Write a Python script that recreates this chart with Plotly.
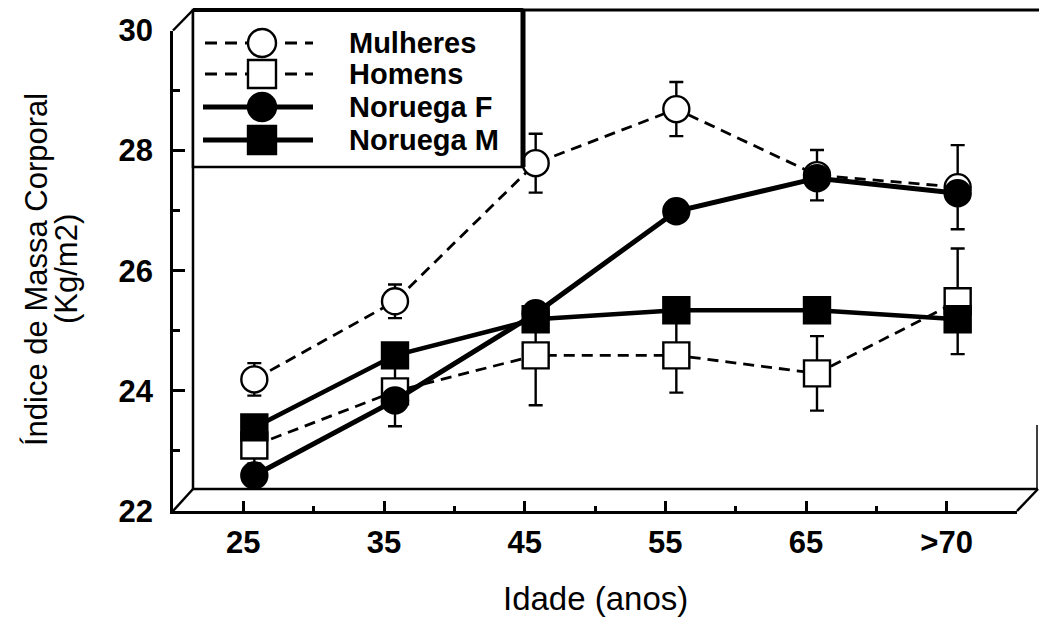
import plotly.graph_objects as go

# ---------------- data ----------------
ages = ['25', '35', '45', '55', '65', '>70']
mulheres = [24.0, 25.3, 27.6, 28.5, 27.4, 27.2]
mulheres_err = [0.27, 0.28, 0.49, 0.45, 0.42, 0.70]
homens = [22.9, 23.8, 24.4, 24.4, 24.1, 25.3]
homens_err = [0.30, 0.58, 0.83, 0.62, 0.62, 0.88]
noruega_f = [22.4, 23.65, 25.1, 26.8, 27.35, 27.1]
noruega_m = [23.2, 24.4, 25.0, 25.15, 25.15, 25.0]
series_names = ['Mulheres', 'Homens', 'Noruega F', 'Noruega M']
y_ticks = [22, 24, 26, 28, 30]
y_title = ['Índice de Massa Corporal', '(Kg/m2)']
x_title = 'Idade (anos)'

# ---------------- geometry (pixels) ----------------
W, H = 1039, 626
FX0, FX1, FY0, FY1 = 173, 1017, 30.5, 511      # front plane (axes)
DX, DY = 11, 11.5                               # data plane offset
BX, BY = 20, 22                                 # back plane offset

def px(x):
    return x / W

def py(y):
    return 1 - y / H

BLACK = 'black'
DASH = '11px,7px'
idx = list(range(len(ages)))
xr = [-0.5, len(ages) - 0.5]
yr = [y_ticks[0], y_ticks[-1]]

fig = go.Figure()

# empty trace to hold front axes
fig.add_trace(go.Scatter(x=[], y=[], xaxis='x', yaxis='y', showlegend=False))

open_marker = dict(color='white', line=dict(color=BLACK, width=2.4))
fill_marker = dict(color=BLACK, line=dict(color=BLACK, width=2.4))
err_style = dict(type='data', visible=True, color=BLACK, thickness=2.4, width=7)

fig.add_trace(go.Scatter(
    x=idx, y=mulheres, name=series_names[0], xaxis='x2', yaxis='y2',
    mode='lines+markers', line=dict(color=BLACK, width=2.8, dash=DASH),
    marker=dict(symbol='circle', size=26, **open_marker),
    error_y=dict(array=mulheres_err, **err_style), cliponaxis=False))
fig.add_trace(go.Scatter(
    x=idx, y=homens, name=series_names[1], xaxis='x2', yaxis='y2',
    mode='lines+markers', line=dict(color=BLACK, width=2.8, dash=DASH),
    marker=dict(symbol='square', size=26, **open_marker),
    error_y=dict(array=homens_err, **err_style), cliponaxis=False))
fig.add_trace(go.Scatter(
    x=idx, y=noruega_f, name=series_names[2], xaxis='x2', yaxis='y2',
    mode='lines+markers', line=dict(color=BLACK, width=5),
    marker=dict(symbol='circle', size=26, **fill_marker), cliponaxis=False))
fig.add_trace(go.Scatter(
    x=idx, y=noruega_m, name=series_names[3], xaxis='x2', yaxis='y2',
    mode='lines+markers', line=dict(color=BLACK, width=4.5),
    marker=dict(symbol='square', size=26, **fill_marker), cliponaxis=False))

tickfont = dict(family='Liberation Sans, Arial', size=31, color=BLACK, weight='bold')

# ---------------- frame shapes ----------------
def seg(x0, y0, x1, y1, w=2.5, dash='solid'):
    return dict(type='line', xref='paper', yref='paper',
                x0=px(x0), y0=py(y0), x1=px(x1), y1=py(y1),
                line=dict(color=BLACK, width=w, dash=dash), layer='above')

shapes = [
    seg(FX0 + BX, 10, W, 10, 3),                       # back top
    seg(FX0 + BX, 10, FX0 + BX, FY1 - BY, 2.5),         # back left
    seg(FX0 + BX, FY1 - BY, FX1 + 21, FY1 - BY, 2.5),   # back bottom
    seg(FX0, FY0, FX0 + BX, 10, 2.5),                   # top-left diagonal
    seg(FX0, FY1, FX0 + BX, FY1 - BY, 2.5),             # bottom-left diagonal
    seg(FX1, FY1, FX1 + 21, FY1 - BY, 2.5),             # bottom-right diagonal
    seg(1037, 425, 1037, FY1 - BY, 1.5),                # right edge hint
]

# ---------------- legend (drawn) ----------------
LX0, LY0, LX1, LY1 = FX0 + BX, 10, 523, 167
shapes.append(dict(type='rect', xref='paper', yref='paper',
                   x0=px(LX0), y0=py(LY1), x1=px(LX1), y1=py(LY0),
                   fillcolor='white', line=dict(color=BLACK, width=2.5), layer='above'))
shapes.append(seg(LX1, LY0, LX1, LY1, 5))
shapes.append(seg(LX0, LY0, LX1, LY0, 4))

rows = [43, 74, 107, 140]
styles = [('circle', False), ('square', False), ('circle', True), ('square', True)]
annotations = []
MX, R = 262, 14
for name, yrow, (sym, filled) in zip(series_names, rows, styles):
    if filled:
        shapes.append(seg(203, yrow, 313, yrow, 5))
    else:
        shapes.append(seg(205, yrow, 313, yrow, 3, '12px,8px'))
    shapes.append(dict(type='circle' if sym == 'circle' else 'rect',
                       xref='paper', yref='paper',
                       x0=px(MX - R), x1=px(MX + R), y0=py(yrow + R), y1=py(yrow - R),
                       fillcolor=BLACK if filled else 'white',
                       line=dict(color=BLACK, width=2.4), layer='above'))
    annotations.append(dict(text=name, xref='paper', yref='paper', x=px(347), y=py(yrow),
                            xanchor='left', yanchor='middle', showarrow=False,
                            font=dict(family='Liberation Sans, Arial', size=29,
                                      color=BLACK, weight='bold')))

# axis titles
annotations.append(dict(text=y_title[0], xref='paper', yref='paper', x=px(37), y=py(270),
                        textangle=-90, showarrow=False, xanchor='center', yanchor='middle',
                        font=dict(family='Liberation Sans, Arial', size=31, color=BLACK)))
annotations.append(dict(text=y_title[1], xref='paper', yref='paper', x=px(66), y=py(269),
                        textangle=-90, showarrow=False, xanchor='center', yanchor='middle',
                        font=dict(family='Liberation Sans, Arial', size=31, color=BLACK)))
annotations.append(dict(text=x_title, xref='paper', yref='paper', x=px(595), y=py(598),
                        showarrow=False, xanchor='center', yanchor='middle',
                        font=dict(family='Liberation Sans, Arial', size=33, color=BLACK)))

fig.update_layout(
    template='none',
    width=W, height=H, margin=dict(l=0, r=0, t=0, b=0, pad=0, autoexpand=False),
    paper_bgcolor='white', plot_bgcolor='rgba(0,0,0,0)',
    showlegend=False,
    xaxis=dict(domain=[px(FX0), px(FX1)], range=xr, anchor='y', automargin=False,
               tickmode='array', tickvals=idx, ticktext=ages,
               ticks='inside', ticklen=10, tickwidth=2.5, tickcolor=BLACK,
               minor=dict(tickmode='array', tickvals=[i + 0.5 for i in idx],
                          ticks='inside', ticklen=5, tickwidth=2.5, tickcolor=BLACK,
                          showgrid=False),
               showline=True, linecolor=BLACK, linewidth=2.5,
               showgrid=False, zeroline=False, tickfont=tickfont, ticklabelstandoff=2),
    yaxis=dict(domain=[py(FY1), py(FY0)], range=yr, anchor='x', automargin=False,
               tickmode='array', tickvals=y_ticks,
               ticks='inside', ticklen=12, tickwidth=2.5, tickcolor=BLACK,
               minor=dict(tickmode='linear', tick0=y_ticks[0] + 1, dtick=2,
                          ticks='inside', ticklen=7, tickwidth=2.5, tickcolor=BLACK,
                          showgrid=False),
               showline=True, linecolor=BLACK, linewidth=2.5,
               showgrid=False, zeroline=False, tickfont=tickfont, ticklabelstandoff=11),
    xaxis2=dict(domain=[px(FX0 + DX), px(FX1 + DX)], range=xr, anchor='y2',
                visible=False, showgrid=False, zeroline=False, automargin=False),
    yaxis2=dict(domain=[py(FY1 - DY), py(FY0 - DY)], range=yr, anchor='x2',
                visible=False, showgrid=False, zeroline=False, automargin=False),
    shapes=shapes,
    annotations=annotations,
)

fig.write_html("out.html", config={'displayModeBar': False},
               post_script="document.body.style.margin='0';document.body.style.overflow='hidden';")
